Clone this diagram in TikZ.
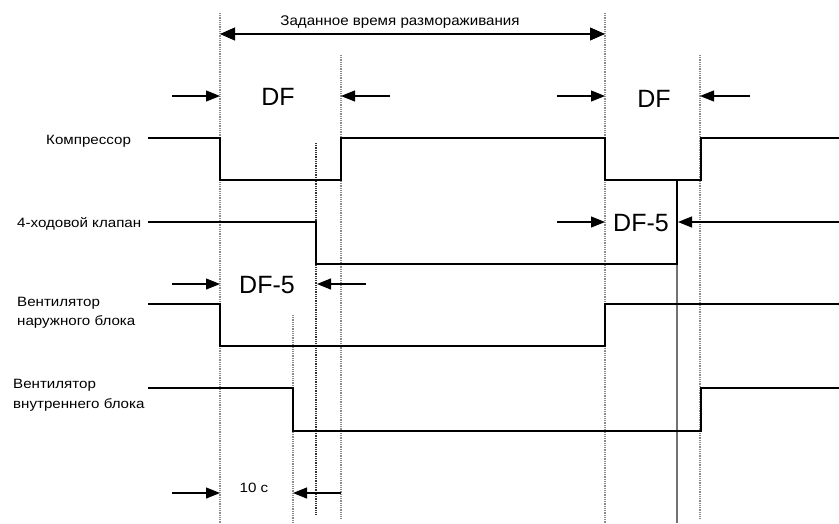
\documentclass[tikz,border=0pt]{standalone}
\usepackage{fontspec}
\setmainfont{Liberation Sans}
\newfontfamily\labfont[FakeStretch=1.12]{Liberation Sans}
\newfontfamily\titfont[FakeStretch=1.08]{Liberation Sans}
\usetikzlibrary{arrows.meta}
\begin{document}
\begin{tikzpicture}[x=1pt,y=-1pt,
  sig/.style={line width=1.4pt, black, line join=miter},
  guide/.style={black!45, line width=1.1pt, dash pattern=on 0.9pt off 0.9pt},
  darkguide/.style={black!80, line width=1.1pt, dash pattern=on 0.9pt off 0.9pt},
  dimarrow/.style={line width=1.1pt, -{Triangle[length=14pt,width=11pt]}},
  lbl/.style={font=\labfont\fontsize{13.5}{19.5}\selectfont, anchor=west, align=left, inner sep=0pt},
  big/.style={font=\fontsize{25}{28}\selectfont, inner sep=0pt},
  small/.style={font=\labfont\fontsize{13.5}{15}\selectfont, inner sep=0pt},
]
\useasboundingbox (0,0) rectangle (839,523);

% guide lines
\draw[guide] (220,13) coordinate (g1t) -- (220,523) coordinate (g1b);
\draw[guide] (341,55) coordinate (g2t) -- (341,518) coordinate (g2b);
\draw[darkguide] (316,143) coordinate (g3t) -- (316,515) coordinate (g3b);
\draw[guide] (293,315) coordinate (g4t) -- (293,523) coordinate (g4b);
\draw[guide] (605,13) coordinate (g5t) -- (605,523) coordinate (g5b);
\draw[guide] (700,55) coordinate (g6t) -- (700,518) coordinate (g6b);
\draw[black!55, line width=1.2pt] (677,264) coordinate (g7m) -- (677,523) coordinate (g7b);

% labels
\node[lbl] (comp) at (46,141) {Компрессор};
\node[lbl] (valve) at (17,224) {4-ходовой клапан};
\node[lbl] (ofan) at (17,313) {Вентилятор\\наружного блока};
\node[lbl] (ifan) at (13,395) {Вентилятор\\внутреннего блока};

% compressor
\draw[sig] (148,138) coordinate (c0) -- (220,138) |- (341,180) |- (605,138) |- (701,180) |- (839,138) coordinate (c1);
% 4-way valve
\draw[sig] (148,222) coordinate (v0) -- (316,222) |- (677,264) -- (677,180) coordinate (v1);
% outdoor fan
\draw[sig] (148,304) coordinate (o0) -- (220,304) |- (605,346) |- (839,304) coordinate (o1);
% indoor fan
\draw[sig] (148,388) coordinate (i0) -- (293,388) |- (701,431) |- (839,388) coordinate (i1);

% title dimension
\node[inner sep=0pt, font=\titfont\fontsize{14}{16}\selectfont] (title) at (400,22) {Заданное время размораживания};
\coordinate (ta) at (220,34);
\coordinate (tb) at (605,34);
\draw[line width=1.1pt, {Triangle[length=15pt,width=13pt]}-{Triangle[length=15pt,width=13pt]}] (ta) -- (tb);

% DF (left)
\coordinate (a1s) at (172,96); \coordinate (a1e) at (220,96);
\coordinate (a2s) at (390,96); \coordinate (a2e) at (341,96);
\draw[dimarrow] (a1s) -- (a1e);
\draw[dimarrow] (a2s) -- (a2e);
\node[big] (df1) at (278,97) {DF};

% DF (right)
\coordinate (a3s) at (557,96); \coordinate (a3e) at (605,96);
\coordinate (a4s) at (750,96); \coordinate (a4e) at (700,96);
\draw[dimarrow] (a3s) -- (a3e);
\draw[dimarrow] (a4s) -- (a4e);
\node[big] (df2) at (654,99) {DF};

% DF-5 (left)
\coordinate (b1s) at (172,284); \coordinate (b1e) at (220,284);
\coordinate (b2s) at (366,284); \coordinate (b2e) at (317,284);
\draw[dimarrow] (b1s) -- (b1e);
\draw[dimarrow] (b2s) -- (b2e);
\node[big] (df3) at (267,285) {DF-5};

% DF-5 (right)
\coordinate (b3s) at (557,222); \coordinate (b3e) at (605,222);
\coordinate (b4s) at (839,222); \coordinate (b4e) at (678,222);
\draw[dimarrow] (b3s) -- (b3e);
\draw[dimarrow] (b4s) -- (b4e);
\node[big] (df4) at (641,223) {DF-5};

% 10 c
\coordinate (d1s) at (172,493); \coordinate (d1e) at (220,493);
\coordinate (d2s) at (341,493); \coordinate (d2e) at (293,493);
\draw[dimarrow] (d1s) -- (d1e);
\draw[dimarrow] (d2s) -- (d2e);
\node[small] (ten) at (254,488) {10 с};
\end{tikzpicture}
\end{document}
